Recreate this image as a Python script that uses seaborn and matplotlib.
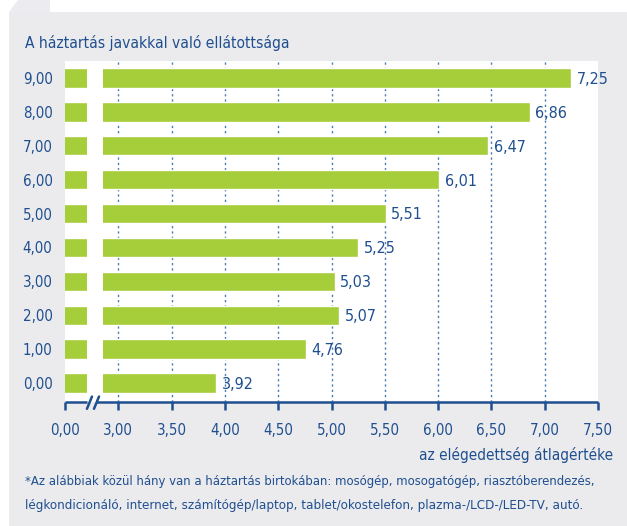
import matplotlib
matplotlib.use("Agg")
import matplotlib.pyplot as plt
import matplotlib.patches as mpatches
import matplotlib.transforms as mtransforms
from matplotlib import font_manager
import seaborn as sns
import pandas as pd

# ---- data ----
categories = ["9,00", "8,00", "7,00", "6,00", "5,00", "4,00", "3,00", "2,00", "1,00", "0,00"]
values = [7.25, 6.86, 6.47, 6.01, 5.51, 5.25, 5.03, 5.07, 4.76, 3.92]
tick_positions = [2.5, 3.0, 3.5, 4.0, 4.5, 5.0, 5.5, 6.0, 6.5, 7.0, 7.5]
tick_labels = ["0,00", "3,00", "3,50", "4,00", "4,50", "5,00", "5,50", "6,00", "6,50", "7,00", "7,50"]
title = "A háztartás javakkal való ellátottsága"
xlabel = "az elégedettség átlagértéke"
footnote1 = "*Az alábbiak közül hány van a háztartás birtokában: mosógép, mosogatógép, riasztóberendezés,"
footnote2 = "légkondicionáló, internet, számítógép/laptop, tablet/okostelefon, plazma-/LCD-/LED-TV, autó."

sns.set_theme(style="white")
fl = font_manager.fontManager.ttflist
names = {f.name for f in fl}
condensed = any(f.name == "DejaVu Sans" and f.stretch == "condensed" for f in fl)
if "Liberation Sans Narrow" in names:
    plt.rcParams["font.family"] = ["Liberation Sans Narrow", "DejaVu Sans"]
    scale = 1.0
elif condensed:
    plt.rcParams["font.family"] = ["DejaVu Sans"]
    plt.rcParams["font.stretch"] = "condensed"
    scale = 0.92
else:
    plt.rcParams["font.family"] = ["DejaVu Sans"]
    scale = 0.8

BLUE = "#1f4f8f"
GREEN = "#a6cd3a"
GRAY = "#ebebee"
GRID = "#4a78b0"

W, H = 627, 526
fig = plt.figure(figsize=(W / 100, H / 100), dpi=100, facecolor="white")

# background panel and tab
fig.patches.append(mpatches.Rectangle((9 / W, 0), 1 - 9 / W, (H - 12) / H,
                                      transform=fig.transFigure, facecolor=GRAY,
                                      edgecolor="none", zorder=-10))
fig.patches.append(mpatches.Polygon([(9 / W, (H - 12) / H), (18 / W, 1), (50 / W, 1), (50 / W, (H - 12) / H)],
                                    closed=True, transform=fig.transFigure,
                                    facecolor="#ececf0", edgecolor="none", zorder=-10))

ax = fig.add_axes([65 / W, 1 - 402 / H, (598 - 65) / W, (402 - 61) / H])
ax.set_facecolor("white")

df = pd.DataFrame({"cat": categories, "val": values})
sns.barplot(data=df, x="val", y="cat", orient="h", color=GREEN, width=0.57,
            saturation=1, ax=ax, zorder=2)

ax.set_xlim(2.5, 7.5)
ax.set_ylim(len(categories) - 1 + 0.56, -0.5)

# axis break gap in bars
ax.axvspan(2.706, 2.856, color="white", zorder=3, lw=0)

# gridlines
ax.set_xticks(tick_positions)
ax.set_xticklabels(tick_labels)
for xv in tick_positions[1:-1]:
    ax.axvline(xv, color=GRID, lw=1.0, ls=(0, (1.6, 2.2)), zorder=1)

fs_val = 12.5 * scale
fs_tick = 11.8 * scale
# value labels
for i, v in enumerate(values):
    ax.annotate(f"{v:.2f}".replace(".", ","), (v, i), xytext=(4, -1),
                textcoords="offset points", va="center", ha="left",
                color=BLUE, fontsize=fs_val)

for s in ["left", "top", "right", "bottom"]:
    ax.spines[s].set_visible(False)

ax.tick_params(axis="x", direction="out", length=6, width=1.8, color=BLUE,
               labelcolor=BLUE, labelsize=fs_tick, pad=9, bottom=True)
ax.tick_params(axis="y", length=0, labelcolor=BLUE, labelsize=fs_tick, pad=9)
ax.set_xlabel("")
ax.set_ylabel("")

# broken bottom axis line
trans = mtransforms.blended_transform_factory(ax.transData, ax.transAxes)
ax.plot([2.5, 2.708], [0, 0], color=BLUE, lw=1.8, transform=trans, clip_on=False,
        solid_capstyle="butt", zorder=5)
ax.plot([2.795, 7.5], [0, 0], color=BLUE, lw=1.8, transform=trans, clip_on=False,
        solid_capstyle="butt", zorder=5)
for x0 in (2.706, 2.772):
    ax.plot([x0, x0 + 0.047], [-0.02, 0.016], color=BLUE, lw=1.8, transform=trans,
            clip_on=False, zorder=5)

t_title = fig.text(25 / W, 1 - 43 / H, title, color=BLUE, fontsize=12, va="center", ha="left")
t_xl = fig.text(613 / W, 1 - 455 / H, xlabel, color=BLUE, fontsize=12, va="center", ha="right")
t_f1 = fig.text(25 / W, 1 - 482 / H, footnote1, color=BLUE, fontsize=10, va="center", ha="left")
t_f2 = fig.text(25 / W, 1 - 505 / H, footnote2, color=BLUE, fontsize=10, va="center", ha="left")

# fit text widths to the reference layout
fig.canvas.draw()
r = fig.canvas.get_renderer()
for t, target in ((t_title, 262), (t_xl, 194), (t_f1, 568), (t_f2, 558)):
    w = t.get_window_extent(r).width
    t.set_fontsize(t.get_fontsize() * target / w)

fig.savefig("out.png", dpi=100, facecolor="white")
